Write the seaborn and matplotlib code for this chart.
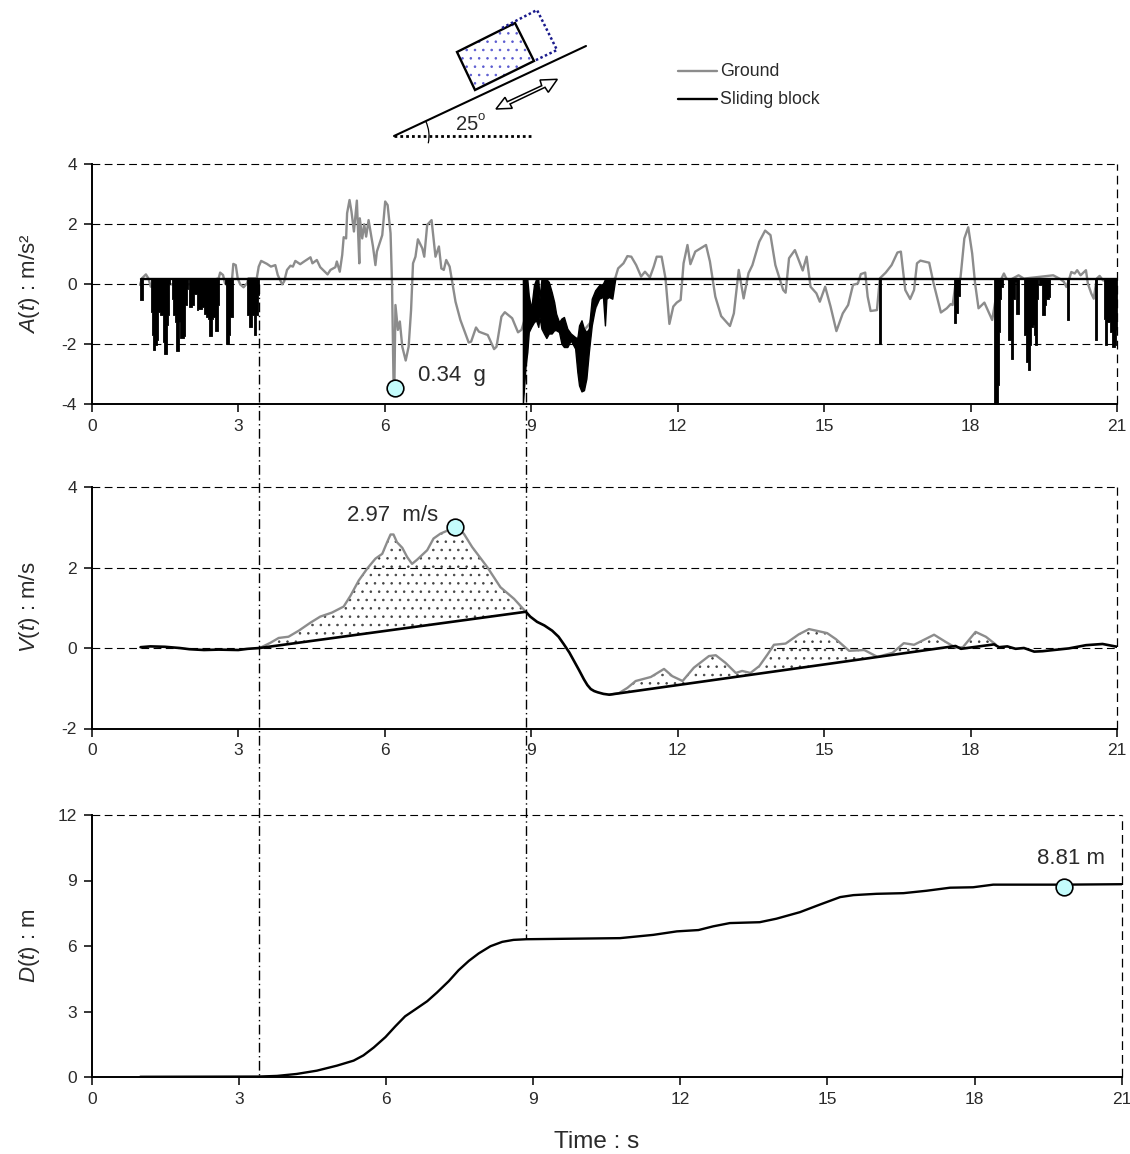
import numpy as np
import pandas as pd
import matplotlib.pyplot as plt
import seaborn as sns
from matplotlib.patches import Polygon, Arc

sns.set_style('white')
plt.rcParams['font.family'] = ['Liberation Sans', 'DejaVu Sans']
plt.rcParams['mathtext.fontset'] = 'custom'
plt.rcParams['mathtext.it'] = 'Liberation Sans:italic'
plt.rcParams['mathtext.rm'] = 'Liberation Sans'
plt.rcParams['axes.unicode_minus'] = False
plt.rcParams['hatch.linewidth'] = 0.6

# acceleration, ground
a_ground_t = [0.99,1.03,1.11,1.16,1.21,1.4,1.8,2.2,2.6,2.63,2.69,2.73,2.8,2.87,2.9,2.95,2.99,3.04,3.11,3.18,3.21,3.38,3.42,3.47,3.59,3.67,3.76,3.81,3.9,3.94,4.0,4.07,4.12,4.17,4.27,4.35,4.48,4.52,4.61,4.68,4.83,4.89,4.99,5.02,5.08,5.13,5.16,5.21,5.23,5.28,5.32,5.37,5.43,5.48,5.49,5.54,5.58,5.62,5.67,5.76,5.81,5.84,5.95,6.01,6.06,6.12,6.15,6.18,6.2,6.22,6.27,6.31,6.36,6.43,6.49,6.54,6.58,6.63,6.68,6.77,6.81,6.87,6.96,7.04,7.11,7.16,7.21,7.26,7.33,7.37,7.45,7.55,7.72,7.77,7.87,7.93,8.11,8.24,8.29,8.39,8.46,8.61,8.73,8.8,8.9,9.4,9.9,10.2,10.5,10.72,10.78,10.89,10.97,11.05,11.15,11.25,11.33,11.43,11.51,11.57,11.67,11.75,11.83,11.91,11.98,12.06,12.12,12.2,12.26,12.36,12.58,12.66,12.77,12.89,13.07,13.15,13.25,13.35,13.45,13.53,13.67,13.79,13.9,14.0,14.16,14.21,14.28,14.4,14.56,14.64,14.72,14.84,14.91,15.02,15.13,15.25,15.38,15.49,15.59,15.69,15.75,15.84,15.89,15.95,16.08,16.14,16.26,16.38,16.5,16.57,16.66,16.76,16.84,16.9,16.97,17.15,17.24,17.39,17.51,17.59,17.63,17.69,17.79,17.87,17.95,18.03,18.09,18.16,18.28,18.44,18.5,18.63,18.68,18.73,18.8,18.98,19.04,19.09,19.69,19.76,19.84,19.91,19.96,20.02,20.06,20.13,20.18,20.25,20.36,20.4,20.47,20.52,20.58,20.64,20.71,21.0]
a_ground = [-0.02,0.2,0.33,0.2,-0.08,0.0,0.0,0.0,0.2,0.39,0.31,0.03,-0.08,0.09,0.68,0.64,0.2,0.0,-0.1,0.03,0.2,0.2,0.59,0.78,0.68,0.59,0.64,0.31,0.0,0.09,0.48,0.62,0.59,0.78,0.67,0.76,0.9,0.7,0.81,0.57,0.33,0.48,0.57,0.76,0.42,0.98,1.57,1.53,2.37,2.81,2.42,1.76,2.79,0.7,2.2,1.53,2.0,1.59,2.14,1.26,0.64,1.09,1.64,2.76,2.64,1.7,0.03,-3.19,-3.2,-0.69,-1.52,-1.24,-2.08,-2.54,-2.08,-0.86,0.7,0.92,1.5,1.2,0.92,1.98,2.14,0.92,1.26,0.53,0.48,0.81,0.59,0.2,-0.58,-1.19,-1.94,-1.91,-1.44,-1.58,-1.69,-2.16,-2.08,-1.08,-0.93,-1.13,-1.6,-1.52,-1.0,-1.0,-1.9,-1.3,0.0,0.2,0.53,0.7,0.94,0.92,0.64,0.26,0.42,0.23,0.59,0.92,0.92,0.2,-1.32,-0.74,-0.61,-0.52,0.7,1.31,0.67,1.09,1.31,0.76,-0.41,-1.06,-1.39,-0.97,0.48,-0.47,0.37,0.64,1.42,1.79,1.64,0.64,-0.19,-0.28,0.87,1.14,0.46,0.92,-0.08,-0.3,-0.58,-0.08,-0.74,-1.56,-0.97,-0.69,-0.02,0.03,0.34,0.39,-0.41,-0.89,-0.86,0.2,0.39,0.64,1.06,1.09,-0.19,-0.49,-0.19,0.7,0.79,0.72,0.03,-0.94,-0.8,-0.66,-0.69,0.03,0.2,1.53,1.9,1.03,0.03,-0.8,-0.61,-1.19,-0.6,0.19,0.36,0.19,0.14,0.3,0.24,0.19,0.3,0.24,0.17,0.08,-0.09,0.19,0.41,0.36,0.47,0.3,0.47,0.02,-0.31,-0.48,0.19,0.28,0.13,0.1]

# acceleration, sliding block: plateau and the dips below it
block_limit = 0.17
dip_t = [0.99,1.045,1.06,1.21,1.23,1.26,1.30,1.33,1.365,1.40,1.435,1.455,1.48,1.515,1.535,1.57,1.59,1.605,1.64,1.67,1.71,1.73,1.755,1.79,1.81,1.845,1.88,1.91,1.95,1.98,2.0,2.05,2.085,2.13,2.15,2.185,2.235,2.26,2.30,2.34,2.39,2.41,2.43,2.46,2.49,2.53,2.555,2.58,2.6,2.73,2.745,2.79,2.815,2.835,2.87,2.89,3.19,3.22,3.245,3.28,3.315,3.35,3.37,3.40,3.425,
         16.12,16.17,17.65,17.69,17.73,17.75,17.78,18.48,18.56,18.57,18.59,18.63,18.66,18.76,18.81,18.825,18.85,18.87,18.9,18.935,18.975,18.99,19.085,19.125,19.14,19.165,19.195,19.21,19.245,19.28,19.29,19.31,19.345,19.36,19.38,19.4,19.45,19.46,19.5,19.52,19.55,19.605,19.63,19.974,20.01,20.02,20.54,20.58,20.595,20.725,20.755,20.8,20.85,20.885,20.95,20.985,21.0]
dip_a = [-0.53,-0.53,0.17,-0.92,-1.7,-2.2,-2.03,-1.87,-0.92,-1.03,-1.03,-1.92,-2.31,-2.31,-1.37,-1.03,0.0,0.17,-0.48,-1.03,-1.26,-2.23,-2.23,-1.26,-1.79,-1.79,-1.72,-0.7,-0.14,0.17,-0.76,-0.7,-0.31,-0.31,-0.84,-0.81,-0.81,-0.76,-0.98,-1.09,-1.14,-1.72,-1.72,-1.14,-1.09,-1.57,-1.57,-0.7,0.17,0.0,-2.0,-2.0,-1.7,-1.09,-1.09,0.17,-1.03,-1.42,-1.42,-1.03,-1.7,-1.7,-1.03,-0.37,0.17,
         -2.0,0.17,-1.28,-0.95,-0.9,-0.4,0.17,-4.0,-3.37,-1.59,-0.48,-0.1,0.17,-1.87,-1.87,-2.48,-2.48,-0.48,0.08,-0.98,-0.98,0.17,-1.7,-1.76,-2.59,-2.87,-2.87,-2.03,-1.42,-1.37,-1.7,-2.01,-2.01,-0.48,0.17,-0.03,-0.48,-1.03,-1.03,-0.7,-0.48,-0.42,0.17,-1.18,-1.18,0.17,-1.87,-1.87,0.17,-1.14,-2.03,-1.26,-1.59,-2.09,-2.03,-1.53,-1.26]

# thick band between 8.8 s and 10.7 s
band_t = [8.83,8.885,8.92,8.95,9.0,9.056,9.10,9.145,9.17,9.21,9.26,9.31,9.36,9.42,9.47,9.51,9.57,9.62,9.67,9.74,9.81,9.9,9.945,9.98,10.03,10.08,10.13,10.18,10.24,10.31,10.39,10.47,10.51,10.54,10.59,10.66,10.72]
band_top = [0.17,0.17,0.17,-0.37,-0.81,-0.03,0.17,0.17,-0.48,0.17,0.17,0.17,0.08,-0.26,-0.59,-0.98,-1.26,-1.14,-1.09,-1.48,-1.64,-1.76,-1.81,-1.37,-1.2,-1.48,-1.59,-1.48,-0.48,-0.2,-0.03,0.02,0.17,0.17,0.17,0.17,0.17]
band_low = [-4.0,-2.7,-2.26,-1.59,-1.42,-1.26,-1.2,-1.42,-1.09,-1.48,-1.64,-1.79,-1.64,-1.64,-1.53,-1.53,-1.59,-1.98,-2.09,-2.09,-1.87,-2.14,-2.92,-3.37,-3.57,-3.53,-3.14,-2.26,-1.37,-0.76,-0.48,-0.42,-1.37,-0.48,-0.42,-0.48,0.17]

# velocity
v_ground_t = [3.44,3.66,3.83,4.03,4.24,4.48,4.68,4.92,5.16,5.3,5.47,5.64,5.81,5.95,6.05,6.12,6.18,6.25,6.36,6.46,6.56,6.66,6.87,7.0,7.14,7.31,7.45,7.62,7.79,8.1,8.37,8.65,8.89]
v_ground = [0.0,0.13,0.25,0.28,0.43,0.63,0.78,0.88,1.03,1.3,1.68,1.97,2.22,2.34,2.63,2.82,2.82,2.63,2.49,2.26,2.09,2.19,2.43,2.72,2.84,2.93,3.0,2.84,2.51,2.01,1.51,1.22,0.9]
v_ground2_t = [10.6,10.8,10.97,11.14,11.45,11.72,11.89,12.1,12.33,12.64,12.78,12.98,13.19,13.32,13.49,13.67,13.84,13.97,14.21,14.48,14.69,15.06,15.24,15.51,15.82,16.09,16.4,16.63,16.84,17.25,17.49,17.69,17.84,18.1,18.31,18.51]
v_ground2 = [-1.16,-1.12,-0.99,-0.82,-0.72,-0.52,-0.7,-0.82,-0.49,-0.2,-0.18,-0.37,-0.62,-0.57,-0.62,-0.45,-0.16,0.08,0.11,0.34,0.47,0.37,0.22,-0.07,-0.05,-0.22,-0.12,0.12,0.08,0.33,0.15,0.01,0.02,0.4,0.28,0.09]
v_block_t = [1.0,1.2,1.5,1.8,2.0,2.3,2.6,3.0,3.2,3.44,8.89,8.98,9.12,9.27,9.43,9.56,9.67,9.78,9.88,9.98,10.08,10.15,10.22,10.29,10.36,10.48,10.6,17.69,17.8,18.48,18.58,18.75,18.92,19.09,19.3,19.47,20.01,20.36,20.7,21.0]
v_block = [0.02,0.04,0.03,0.0,-0.03,-0.05,-0.04,-0.05,-0.02,0.0,0.9,0.78,0.65,0.56,0.43,0.28,0.09,-0.11,-0.33,-0.55,-0.78,-0.92,-1.02,-1.07,-1.1,-1.14,-1.16,0.05,-0.02,0.09,0.02,0.04,-0.02,0.0,-0.09,-0.08,-0.01,0.07,0.1,0.03]

# displacement
d_t = [0.99,3.4,3.78,4.18,4.59,5.0,5.34,5.54,5.75,5.99,6.19,6.39,6.6,6.84,7.04,7.28,7.48,7.69,7.89,8.13,8.37,8.6,8.86,10.77,11.45,11.93,12.37,12.67,13.01,13.62,13.96,14.44,14.85,15.26,15.53,16.0,16.55,17.02,17.5,17.97,18.38,19.81,21.0]
d_block = [0.01,0.02,0.05,0.14,0.29,0.52,0.75,0.99,1.35,1.83,2.32,2.78,3.1,3.47,3.87,4.39,4.89,5.32,5.66,5.99,6.19,6.28,6.31,6.36,6.51,6.67,6.73,6.9,7.05,7.09,7.25,7.55,7.9,8.24,8.33,8.39,8.42,8.53,8.67,8.69,8.81,8.81,8.83]

GREY = '#8c8c8c'
TXT = '#2a2a2a'
CYAN = '#c4fcfc'
x_ticks = [0, 3, 6, 9, 12, 15, 18, 21]
W, H = 1130, 1154


# the bottom panel is a little wider than the two above it
def panel(top, bottom, width, ymin, ymax, step, ylabel, grid):
    ax = fig.add_axes([91.7 / W, 1 - bottom / H, width / W, (bottom - top) / H])
    ax.set_xlim(0, 21)
    ax.set_ylim(ymin, ymax)
    ax.set_xticks(x_ticks)
    ax.set_yticks(np.arange(ymin, ymax + 1, step))
    ax.patch.set_alpha(0)
    for s in ['top', 'right']:
        ax.spines[s].set_visible(False)
    for s in ['left', 'bottom']:
        ax.spines[s].set_linewidth(1.4)
        ax.spines[s].set_color('black')
    ax.tick_params(direction='out', length=5.5, width=1.1, color='black', labelsize=12.5,
                   labelcolor=TXT, bottom=True, left=True, pad=5)
    ax.set_ylabel(ylabel, fontsize=16, color=TXT)
    ax.yaxis.set_label_coords(-0.048, 0.5)
    ax.set_xlabel('')
    for y in grid:
        ax.axhline(y, color='black', lw=0.8, dashes=(7, 4), zorder=0, clip_on=False)
    ax.axvline(21, color='black', lw=0.9, dashes=(7, 4), zorder=0, clip_on=False)
    return ax


fig = plt.figure(figsize=(W / 100, H / 100), dpi=100)

ax1 = panel(164.3, 404.3, 1025.5, -4, 4, 2, '$\\mathit{A(t)}$ : m/s²', [4, 2, 0, -2])
sns.lineplot(x=a_ground_t, y=a_ground, ax=ax1, color=GREY, lw=1.7, sort=False, estimator=None)
ax1.fill_between(dip_t, dip_a, block_limit, step='post', color='black', lw=0.6, zorder=3)
ax1.fill_between(band_t, band_low, band_top, color='black', lw=1.0, zorder=3)
sns.lineplot(x=[1.0, 21.0], y=[block_limit, block_limit], ax=ax1, color='black', lw=1.7, zorder=3)
ax1.plot([6.21], [-3.45], 'o', ms=12, mfc=CYAN, mec='black', mew=1.2, zorder=5, clip_on=False)
ax1.text(6.68, -3.03, '0.34  g', fontsize=16, color=TXT, va='center')

ax2 = panel(487, 728.5, 1025.5, -2, 4, 2, '$\\mathit{V(t)}$ : m/s', [4, 2, 0])
# the wedges between ground and block are dotted
lo1 = np.interp(v_ground_t, v_block_t, v_block)
lo2 = np.interp(v_ground2_t, v_block_t, v_block)
for tt, up, lo in [(v_ground_t, v_ground, lo1), (v_ground2_t, v_ground2, lo2)]:
    ax2.fill_between(tt, lo, up, where=np.array(up) >= lo, facecolor='none', edgecolor='#444444',
                     hatch='..', lw=0, zorder=1)
sns.lineplot(x=v_ground_t, y=v_ground, ax=ax2, color=GREY, lw=1.7, sort=False, estimator=None, zorder=2)
sns.lineplot(x=v_ground2_t, y=v_ground2, ax=ax2, color=GREY, lw=1.7, sort=False, estimator=None, zorder=2)
sns.lineplot(x=v_block_t, y=v_block, ax=ax2, color='black', lw=1.9, sort=False, estimator=None, zorder=3)
ax2.plot([7.44], [3.0], 'o', ms=12, mfc=CYAN, mec='black', mew=1.2, zorder=5)
ax2.text(5.23, 3.3, '2.97  m/s', fontsize=16, color=TXT, va='center')

ax3 = panel(815, 1077, 1030, 0, 12, 3, '$\\mathit{D(t)}$ : m', [12])
sns.lineplot(x=d_t, y=d_block, ax=ax3, color='black', lw=1.7, sort=False, estimator=None)
ax3.plot([19.82], [8.7], 'o', ms=12, mfc=CYAN, mec='black', mew=1.2, zorder=5)
ax3.text(19.96, 10.0, '8.81 m', fontsize=16, color=TXT, va='center', ha='center')
ax3.set_xlabel('Time : s', fontsize=17.5, color=TXT, va='center')
ax3.xaxis.set_label_coords(0.4905, -0.248)

# overlay spanning all panels, drawn in figure pixels from the top
over = fig.add_axes([0, 0, 1, 1], xlim=(0, W), ylim=(H, 0))
over.axis('off')
over.patch.set_alpha(0)
dd = (7, 2.5, 1, 2.5)
over.plot([259.3, 259.3], [284, 1077], color='black', lw=1.0, dashes=dd)
over.plot([526, 526], [284, 939], color='black', lw=1.0, dashes=dd)

# sketch of the block on the slope
over.plot([394, 586], [136, 46], color='black', lw=1.5)
over.plot([394, 534], [136, 136], color='black', lw=2.0, dashes=(1, 1.1))
block = [(457, 52), (515, 23), (534, 61), (475, 90)]
over.add_patch(Polygon(block, closed=True, facecolor='white', edgecolor='#5a5ad0', hatch='..', lw=0))
over.add_patch(Polygon(block, closed=True, fill=False, edgecolor='black', lw=1.7))
over.plot([502, 537, 557, 534], [28, 10, 50, 61], color='#1a1a8c', lw=1.8, dashes=(1, 1))
arrow = [(496, 109), (505, 97.3), (507.3, 101.7), (541.7, 85.7), (540, 80), (557.3, 79.3),
         (548.3, 92.3), (545, 87.3), (510, 104), (512.3, 108.3)]
over.add_patch(Polygon(arrow, closed=True, facecolor='white', edgecolor='black', lw=1.1))
over.add_patch(Arc((394, 136), 70, 70, theta1=-25, theta2=12, color='black', lw=0.9))
over.text(456, 125, '25', fontsize=14.5, color=TXT, va='center')
over.text(478, 117, 'o', fontsize=9.5, color=TXT, va='center')

# legend, placed by hand like the sketch
over.plot([678, 717], [71, 71], color=GREY, lw=1.7)
over.plot([678, 717], [99, 99], color='black', lw=1.7)
over.text(720, 72, 'Ground', fontsize=12.8, color=TXT, va='center')
over.text(720, 100, 'Sliding block', fontsize=12.8, color=TXT, va='center')

fig.savefig('out.png', dpi=100)
